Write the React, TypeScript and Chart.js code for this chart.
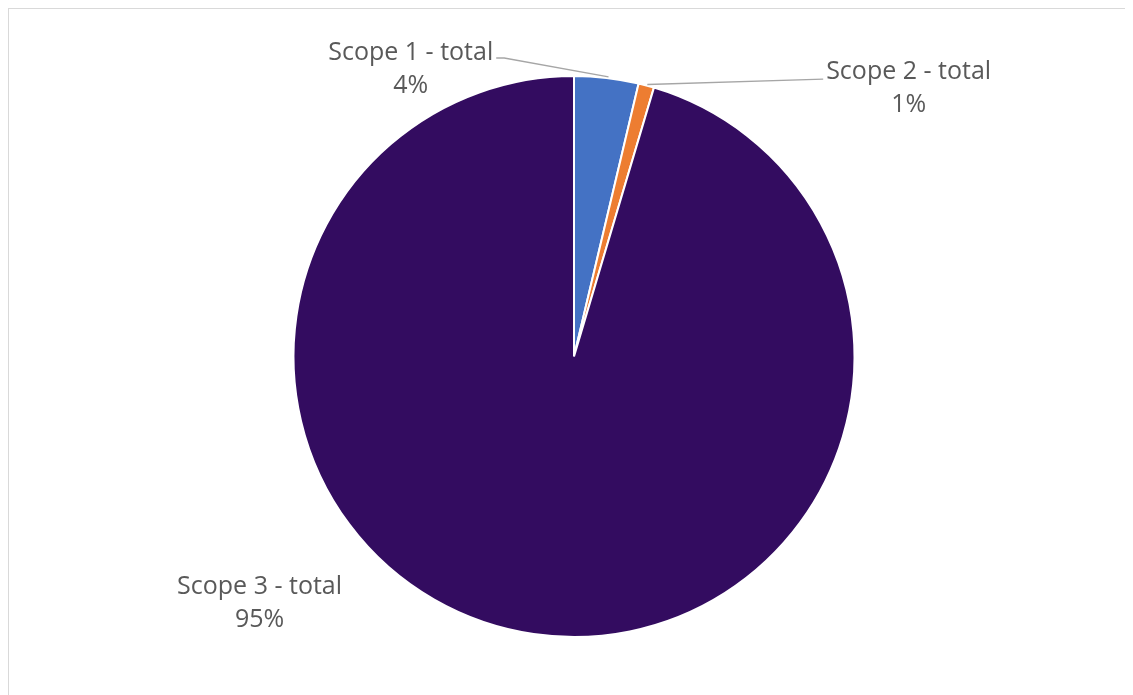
import React, { useEffect, useRef } from "react";
import { Chart, registerables } from "chart.js";

Chart.register(...registerables);

const categories = ["Scope 1 - total", "Scope 2 - total", "Scope 3 - total"];
const values = [3.7, 0.9, 95.4];
const colors = ["#4472C4", "#ED7D31", "#330C60"];

// label placement in units of pie radius, relative to pie centre (baseline of first line)
const labelOffsets = [
  { dx: -0.582, dy: -1.057, leader: true, side: "right" },
  { dx: 1.193, dy: -0.989, leader: true, side: "left" },
  { dx: -1.121, dy: 0.846, leader: false, side: "none" },
];

const FONT = '25px "Open Sans", Lato, sans-serif';
const TEXT_COLOR = "#595959";

const labelPlugin = {
  id: "outerLabels",
  afterDatasetsDraw(chart: any) {
    const ctx = chart.ctx as CanvasRenderingContext2D;
    const meta = chart.getDatasetMeta(0);
    const total = values.reduce((a, b) => a + b, 0);
    ctx.save();
    ctx.font = FONT;
    ctx.fillStyle = TEXT_COLOR;
    ctx.textAlign = "center";
    ctx.textBaseline = "alphabetic";
    meta.data.forEach((arc: any, i: number) => {
      const { x, y, outerRadius, startAngle, endAngle } = arc.getProps(
        ["x", "y", "outerRadius", "startAngle", "endAngle"],
        true
      );
      const lo = labelOffsets[i];
      const lx = x + lo.dx * outerRadius;
      const ly = y + lo.dy * outerRadius;
      const line1 = categories[i];
      const line2 = Math.round((values[i] / total) * 100) + "%";
      ctx.fillText(line1, lx, ly);
      ctx.fillText(line2, lx, ly + 33);
      if (lo.leader) {
        const mid = (startAngle + endAngle) / 2;
        const px = x + Math.cos(mid) * outerRadius;
        const py = y + Math.sin(mid) * outerRadius;
        const w = ctx.measureText(line1).width;
        ctx.beginPath();
        ctx.strokeStyle = "#A6A6A6";
        ctx.lineWidth = 1.3;
        if (lo.side === "right") {
          const sx = lx + w / 2 + 3;
          const sy = ly - 2;
          ctx.moveTo(sx, sy);
          ctx.lineTo(sx + 8, sy);
          ctx.lineTo(px + 2, py - 1);
        } else {
          const sx = lx - w / 2 - 3;
          const sy = ly;
          ctx.moveTo(sx, sy);
          ctx.lineTo(px + 1, py - 1);
        }
        ctx.stroke();
      }
    });
    ctx.restore();
  },
};

export default function App() {
  const ref = useRef<HTMLCanvasElement>(null);
  const W = 1124;
  const H = 686;
  useEffect(() => {
    if (!ref.current) return;
    const chart = new Chart(ref.current, {
      type: "pie",
      data: {
        labels: categories,
        datasets: [
          {
            data: values,
            backgroundColor: colors,
            borderColor: "#FFFFFF",
            borderWidth: 2,
          },
        ],
      },
      options: {
        responsive: false,
        animation: false,
        layout: { padding: { left: 283, right: W - 847, top: 66, bottom: H - 629 } },
        plugins: {
          legend: { display: false },
          tooltip: { enabled: false },
        },
      },
      plugins: [labelPlugin],
    });
    return () => chart.destroy();
  }, []);
  return (
    <div
      style={{
        borderLeft: "1px solid #D9D9D9",
        borderTop: "1px solid #D9D9D9",
        width: W,
        height: H,
        background: "#fff",
        overflow: "hidden",
      }}
    >
      <canvas ref={ref} width={W} height={H} style={{ display: "block" }} />
    </div>
  );
}
